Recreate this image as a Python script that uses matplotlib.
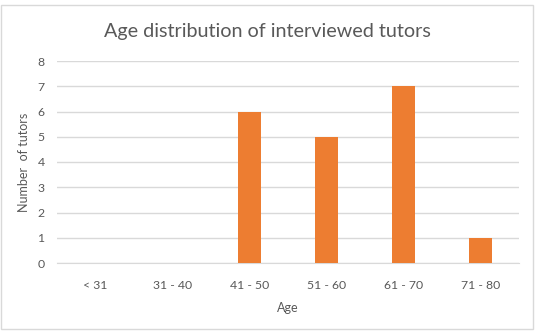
import numpy as np
import matplotlib
matplotlib.use('Agg')
import matplotlib.pyplot as plt
from matplotlib.patches import Rectangle

plt.rcParams['font.family'] = ['Lato', 'DejaVu Sans']

# age groups and number of tutors in each
age_groups = ['< 31', '31 - 40', '41 - 50', '51 - 60', '61 - 70', '71 - 80']
num_tutors = [0, 0, 6, 5, 7, 1]

BAR_COLOR = '#ED7D31'
GRID_COLOR = '#D9D9D9'
TEXT_COLOR = '#595959'

W, H = 539, 332
fig = plt.figure(figsize=(W / 100, H / 100), dpi=100)

# plot area in pixel coords: x 57..519, y 61..263 (from top)
ax = fig.add_axes([57 / W, (H - 263) / H, (519 - 57) / W, (263 - 61) / H])

x = np.arange(len(age_groups))
ax.bar(x, num_tutors, width=0.31, color=BAR_COLOR, zorder=3)

ax.set_xlim(-0.5, len(age_groups) - 0.5)
ax.set_ylim(0, 8)
ax.set_yticks(range(0, 9))
ax.set_xticks(x)
ax.set_xticklabels(age_groups)

ax.grid(axis='y', color=GRID_COLOR, linewidth=1, zorder=0)
for s in ['top', 'right', 'left']:
    ax.spines[s].set_visible(False)
ax.spines['bottom'].set_color(GRID_COLOR)
ax.tick_params(axis='both', length=0, labelsize=8.8, colors=TEXT_COLOR, pad=9)
ax.tick_params(axis='x', pad=12)

ax.set_xlabel('Age', fontsize=9, color=TEXT_COLOR, labelpad=8)
ax.set_ylabel('Number  of tutors', fontsize=9, color=TEXT_COLOR, labelpad=5)

fig.text(267 / W, 1 - 31 / H, 'Age distribution of interviewed tutors',
         ha='center', va='center', fontsize=14.2, color=TEXT_COLOR)

# chart border
fig.patches.append(Rectangle((0.5 / W, (H - 329) / H), 532.5 / W, 324 / H,
                             transform=fig.transFigure, fill=False,
                             edgecolor=GRID_COLOR, linewidth=1))

fig.savefig('out.png', dpi=100)
plt.close()
